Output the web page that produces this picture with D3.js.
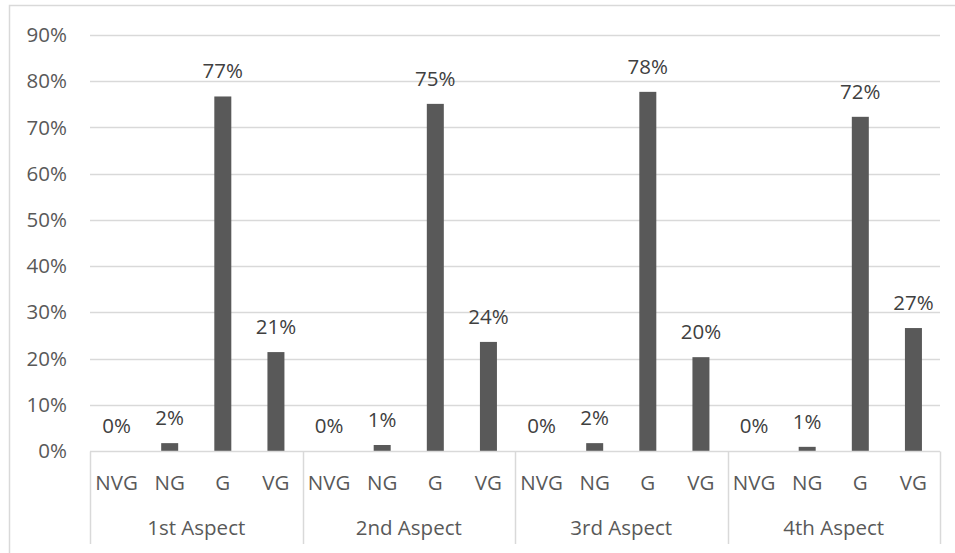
<!DOCTYPE html>
<html>
<head>
<meta charset="utf-8">
<script src="https://cdn.jsdelivr.net/npm/d3@7"></script>
<style>
  html, body { margin: 0; padding: 0; background: #fff; }
  svg { display: block; }
  text { font-family: "Open Sans", Lato, sans-serif; }
</style>
</head>
<body>
<svg id="chart" width="955" height="553"></svg>
<script>
// Ratings per aspect
const aspects = ["1st Aspect", "2nd Aspect", "3rd Aspect", "4th Aspect"];
const ratings = ["NVG", "NG", "G", "VG"];
const aspect1 = [0.000, 0.017, 0.767, 0.214];
const aspect2 = [0.000, 0.013, 0.751, 0.236];
const aspect3 = [0.000, 0.017, 0.777, 0.203];
const aspect4 = [0.000, 0.009, 0.723, 0.266];
const yTicks = [0, 0.1, 0.2, 0.3, 0.4, 0.5, 0.6, 0.7, 0.8, 0.9];

const seriesByAspect = [aspect1, aspect2, aspect3, aspect4];
const rows = [];
aspects.forEach((a, i) => {
  ratings.forEach((r, j) => {
    rows.push({ key: a + "|" + r, aspect: a, rating: r, value: seriesByAspect[i][j] });
  });
});

const svg = d3.select("#chart");
const W = 955, H = 553;
const m = { left: 90, right: 15, top: 35, bottom: 102 };
const plotW = W - m.left - m.right;
const plotH = H - m.top - m.bottom;
const FS = "20.5px";

// Chart frame
svg.append("rect")
  .attr("x", 9.5).attr("y", 5.5)
  .attr("width", 960).attr("height", 560)
  .attr("fill", "#fff").attr("stroke", "#d9d9d9").attr("stroke-width", 1.5);

const x = d3.scaleBand().domain(rows.map(d => d.key)).range([m.left, m.left + plotW]).paddingInner(0.68).paddingOuter(0.34);
const y = d3.scaleLinear().domain([0, 0.9]).range([m.top + plotH, m.top]);

// Gridlines
svg.append("g")
  .selectAll("line").data(yTicks.slice(1)).join("line")
  .attr("x1", m.left).attr("x2", m.left + plotW)
  .attr("y1", d => Math.round(y(d)) + 0.5).attr("y2", d => Math.round(y(d)) + 0.5)
  .attr("stroke", "#d9d9d9").attr("stroke-width", 1.5);

// Y axis labels
const yAxis = d3.axisLeft(y).tickValues(yTicks).tickFormat(d3.format(".0%")).tickSize(0).tickPadding(23);
const yg = svg.append("g").attr("transform", `translate(${m.left},0)`).call(yAxis);
yg.select(".domain").remove();
yg.selectAll("text").attr("fill", "#595959").style("font-size", FS).style("font-family", "'Open Sans', Lato, sans-serif");

// Bars
svg.append("g").selectAll("rect").data(rows).join("rect")
  .attr("x", d => x(d.key))
  .attr("width", x.bandwidth())
  .attr("y", d => y(d.value))
  .attr("height", d => y(0) - y(d.value))
  .attr("fill", "#595959");

// Value labels
svg.append("g").selectAll("text").data(rows).join("text")
  .attr("x", d => x(d.key) + x.bandwidth() / 2)
  .attr("y", d => y(d.value) - 18)
  .attr("text-anchor", "middle")
  .attr("fill", "#404040")
  .style("font-size", FS)
  .text(d => d3.format(".0%")(d.value));

// Category axis line
const baseY = Math.round(y(0)) + 0.5;
svg.append("line")
  .attr("x1", m.left).attr("x2", m.left + plotW)
  .attr("y1", baseY).attr("y2", baseY)
  .attr("stroke", "#d9d9d9").attr("stroke-width", 1.5);

// Group separators
const groupW = plotW / aspects.length;
const sepX = d3.range(aspects.length + 1).map(i => m.left + i * groupW);
svg.append("g").selectAll("line").data(sepX).join("line")
  .attr("x1", d => Math.round(d) + 0.5).attr("x2", d => Math.round(d) + 0.5)
  .attr("y1", baseY).attr("y2", 544)
  .attr("stroke", "#d9d9d9").attr("stroke-width", 1.5);

// Rating labels
svg.append("g").selectAll("text").data(rows).join("text")
  .attr("x", d => x(d.key) + x.bandwidth() / 2)
  .attr("y", 490)
  .attr("text-anchor", "middle")
  .attr("fill", "#595959")
  .style("font-size", FS)
  .text(d => d.rating);

// Aspect labels
svg.append("g").selectAll("text").data(aspects).join("text")
  .attr("x", (d, i) => m.left + (i + 0.5) * groupW)
  .attr("y", 535)
  .attr("text-anchor", "middle")
  .attr("fill", "#595959")
  .style("font-size", FS)
  .text(d => d);
</script>
</body>
</html>
